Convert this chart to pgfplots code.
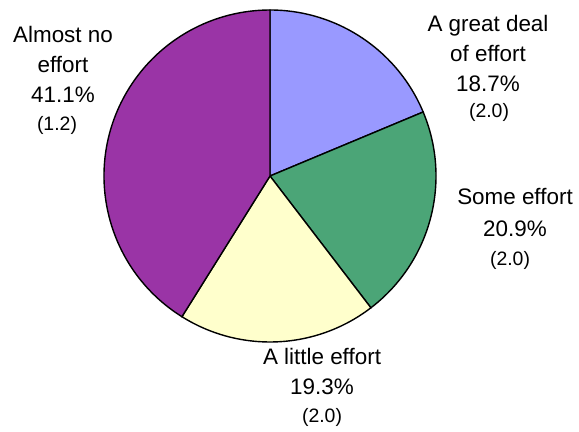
\documentclass[border=0pt]{standalone}
\usepackage{pgfplots}
\pgfplotsset{compat=1.18}
\usepackage{fontspec}
\setmainfont{Liberation Sans}
\definecolor{cBlue}{HTML}{9999FF}
\definecolor{cGreen}{HTML}{4BA577}
\definecolor{cYellow}{HTML}{FFFFCC}
\definecolor{cPurple}{HTML}{9A34A6}
\newcommand{\lbig}{\fontsize{22.5}{26}\selectfont}
\newcommand{\lsm}{\fontsize{19.5}{23}\selectfont}
\begin{document}
\begin{tikzpicture}
\begin{axis}[width=579bp,height=432bp,scale only axis,
  xmin=0,xmax=579,ymin=0,ymax=432,hide axis,clip=false]
\path (axis cs:0,0) rectangle (axis cs:579,432);
% shares (percent): great deal 18.7, some 20.9, little 19.3, almost none 41.1
\def\cx{270}\def\cy{256}\def\R{166bp}
\filldraw[fill=cBlue,draw=black,line width=1.4bp] (axis cs:\cx,\cy) -- ++(90:\R) arc[start angle=90,end angle={90-18.7*3.6},radius=\R] -- cycle;
\filldraw[fill=cGreen,draw=black,line width=1.4bp] (axis cs:\cx,\cy) -- ++({90-18.7*3.6}:\R) arc[start angle={90-18.7*3.6},end angle={90-(18.7+20.9)*3.6},radius=\R] -- cycle;
\filldraw[fill=cYellow,draw=black,line width=1.4bp] (axis cs:\cx,\cy) -- ++({90-(18.7+20.9)*3.6}:\R) arc[start angle={90-(18.7+20.9)*3.6},end angle={90-(18.7+20.9+19.3)*3.6},radius=\R] -- cycle;
\filldraw[fill=cPurple,draw=black,line width=1.4bp] (axis cs:\cx,\cy) -- ++({90-(18.7+20.9+19.3)*3.6}:\R) arc[start angle={90-(18.7+20.9+19.3)*3.6},end angle={90-100*3.6},radius=\R] -- cycle;
% labels
\node[anchor=base,font=\lbig] at (axis cs:63,389) {Almost no};
\node[anchor=base,font=\lbig] at (axis cs:63,359) {effort};
\node[anchor=base,font=\lbig] at (axis cs:63,329) {41.1\%};
\node[anchor=base,font=\lsm] at (axis cs:57,301) {(1.2)};
\node[anchor=base,font=\lbig] at (axis cs:488,400) {A great deal};
\node[anchor=base,font=\lbig] at (axis cs:488,370) {of effort};
\node[anchor=base,font=\lbig] at (axis cs:488,340) {18.7\%};
\node[anchor=base,font=\lsm] at (axis cs:489,314) {(2.0)};
\node[anchor=base,font=\lbig] at (axis cs:515,227) {Some effort};
\node[anchor=base,font=\lbig] at (axis cs:515,195) {20.9\%};
\node[anchor=base,font=\lsm] at (axis cs:510,166) {(2.0)};
\node[anchor=base,font=\lbig] at (axis cs:322,67) {A little effort};
\node[anchor=base,font=\lbig] at (axis cs:322,37) {19.3\%};
\node[anchor=base,font=\lsm] at (axis cs:322,10) {(2.0)};
\end{axis}
\end{tikzpicture}
\end{document}
